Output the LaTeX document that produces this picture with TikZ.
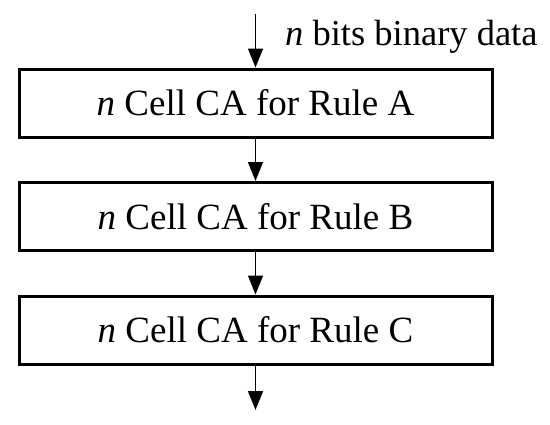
\documentclass[tikz,border=0pt]{standalone}
\usepackage{fontspec}
\setmainfont{Liberation Serif}
\usetikzlibrary{arrows.meta,positioning}

\begin{document}
\begin{tikzpicture}[x=1pt,y=1pt,
  rulebox/.style={draw,line width=3pt,minimum width=473pt,minimum height=68pt,
    inner sep=0pt,font=\fontsize{37}{44}\selectfont},
  flow/.style={line width=1.5pt,-{Triangle[length=19pt,width=15pt]}}]
\useasboundingbox (0,0) rectangle (550,-424);
% the three CA stages
\node[rulebox] (ruleA) at (255.5,-103) {\textit{n} Cell CA for Rule A};
\node[rulebox,below=42.5pt of ruleA] (ruleB) {\textit{n} Cell CA for Rule B};
\node[rulebox,below=42.5pt of ruleB] (ruleC) {\textit{n} Cell CA for Rule C};
% input and output ends
\coordinate (din) at (255.5,-14);
\coordinate (dout) at (255.5,-410);
\node[anchor=base west,inner sep=0pt,font=\fontsize{36.5}{44}\selectfont] (dlabel) at (285,-45) {\textit{n} bits binary data};
\draw[flow] (din) -- (ruleA);
\draw[flow] (ruleA) -- (ruleB);
\draw[flow] (ruleB) -- (ruleC);
\draw[flow] (ruleC) -- (dout);
\end{tikzpicture}
\end{document}
